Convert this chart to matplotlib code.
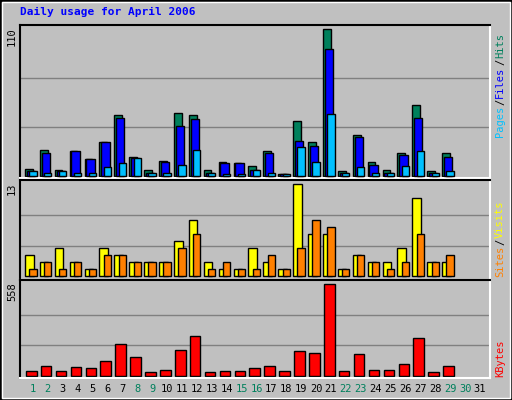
import matplotlib
matplotlib.use("Agg")
import matplotlib.pyplot as plt
from matplotlib.patches import Rectangle
import numpy as np

days = list(range(1, 32))
hits  = [5,19.5,4.5,19,13,25.5,46,14,4.5,11,47,46,4.5,10.5,10,7.5,19,1.5,41,25.5,110,4,31,10.5,4.5,17,53,4,17,0,0]
files = [4,17,4,19,13,25.5,43.5,13.5,2,10.5,37.5,43,2,10,10,4.5,17,1.5,26,22.5,95,2,29,8,2,16,43.5,2,14,0,0]
pages = [4,2,4,2,2,7,10,13.5,2,2,8,19.5,2,1.5,1.5,4.5,2,1.5,22,10.5,46.5,2,7,2,2,7.5,19,2,4,0,0]
visits = [3,2,4,2,1,4,3,2,2,2,5,8,2,1,1,4,2,1,13,6,6,1,3,2,2,4,11,2,2,0,0]
sites  = [1,2,1,2,1,3,3,2,2,2,4,6,1,2,1,1,3,1,4,8,7,1,3,2,1,2,6,2,3,0,0]
kbytes = [26,57,26,51,45,88,191,112,20,33,155,240,20,26,26,45,57,26,149,136,558,26,130,33,33,69,228,20,57,0,0]
weekend = [1,2,8,9,15,16,22,23,29,30]

W, H = 512, 400
BG = '#c0c0c0'
fig = plt.figure(figsize=(W/100, H/100), dpi=100, facecolor=BG)
mono = 'DejaVu Sans Mono'

def ax_at(x0, y0, x1, y1):
    return fig.add_axes([x0/W, 1-y1/H, (x1-x0)/W, (y1-y0)/H])

fig.patches.append(Rectangle((0, 0), 1, 1, transform=fig.transFigure, fill=False, ec='black', lw=2))
fig.patches.append(Rectangle((2/W, 2/H), 1-4/W, 1-4/H, transform=fig.transFigure, fill=False, ec='white', lw=1))

x = np.array(days)
def style(ax, ylim, ymax):
    ax.set_facecolor(BG)
    ax.set_xlim(0.13, 31.67)
    ax.set_ylim(*ylim)
    ax.set_xticks([]); ax.set_yticks([])
    ax.spines['top'].set_color('black'); ax.spines['left'].set_color('black')
    ax.spines['bottom'].set_color('white'); ax.spines['right'].set_color('white')
    for s in ax.spines.values(): s.set_linewidth(1.5)
    for f in (1/3, 2/3):
        ax.axhline(ymax*f, color='#808080', lw=1, zorder=0)

def bars(ax, off, vals, w, col, z):
    v = np.array(vals, dtype=float)
    m = v > 0
    ax.bar(x[m]+off, v[m], w, align='edge', color=col, ec='black', lw=1, zorder=z)

ax1 = ax_at(20, 25, 490, 178)
style(ax1, (-1.5, 113), 110)
bars(ax1, -0.54, hits, 0.52, '#00805c', 2)
bars(ax1, -0.42, files, 0.56, '#0000ff', 3)
bars(ax1, -0.25, pages, 0.49, '#00c0ff', 4)

ax2 = ax_at(20, 180, 490, 280)
style(ax2, (-0.52, 13.6), 13)
bars(ax2, -0.54, visits, 0.58, '#ffff00', 2)
bars(ax2, -0.25, sites, 0.49, '#ff8000', 3)

ax3 = ax_at(20, 280, 490, 378)
style(ax3, (-14, 584), 558)
bars(ax3, -0.47, kbytes, 0.71, '#ff0000', 2)

fig.text(20/W, 1-12/H, 'Daily usage for April 2006', color='#0000ff', fontweight='bold',
         family=mono, fontsize=8, va='center', ha='left')

for lab, ytop in (('110', 27), ('13', 182), ('558', 282)):
    fig.text(17/W, 1-ytop/H, lab, rotation=90, family=mono, fontsize=7.5, va='top', ha='right')

renderer = fig.canvas.get_renderer()
def right_label(parts, ybottom):
    y = ybottom
    for txt, col in parts:
        t = fig.text(500/W, 1-y/H, txt, rotation=90, family=mono, fontsize=7.5,
                     color=col, va='bottom', ha='center')
        bb = t.get_window_extent(renderer)
        y -= bb.height + 1
right_label([('Pages', '#00c0ff'), ('/', 'black'), ('Files', '#0000ff'), ('/', 'black'), ('Hits', '#00805c')], 137)
right_label([('Sites', '#ff8000'), ('/', 'black'), ('Visits', '#ffff00')], 277)
right_label([('KBytes', '#ff0000')], 377)

for d in days:
    xp = 20 + (d - 0.13) / (31.67 - 0.13) * 470
    fig.text(xp/W, 1-389/H, str(d), family=mono, fontsize=7.5, ha='center', va='center',
             color='#00805c' if d in weekend else 'black')

fig.savefig('out.png', dpi=100, facecolor=BG)
